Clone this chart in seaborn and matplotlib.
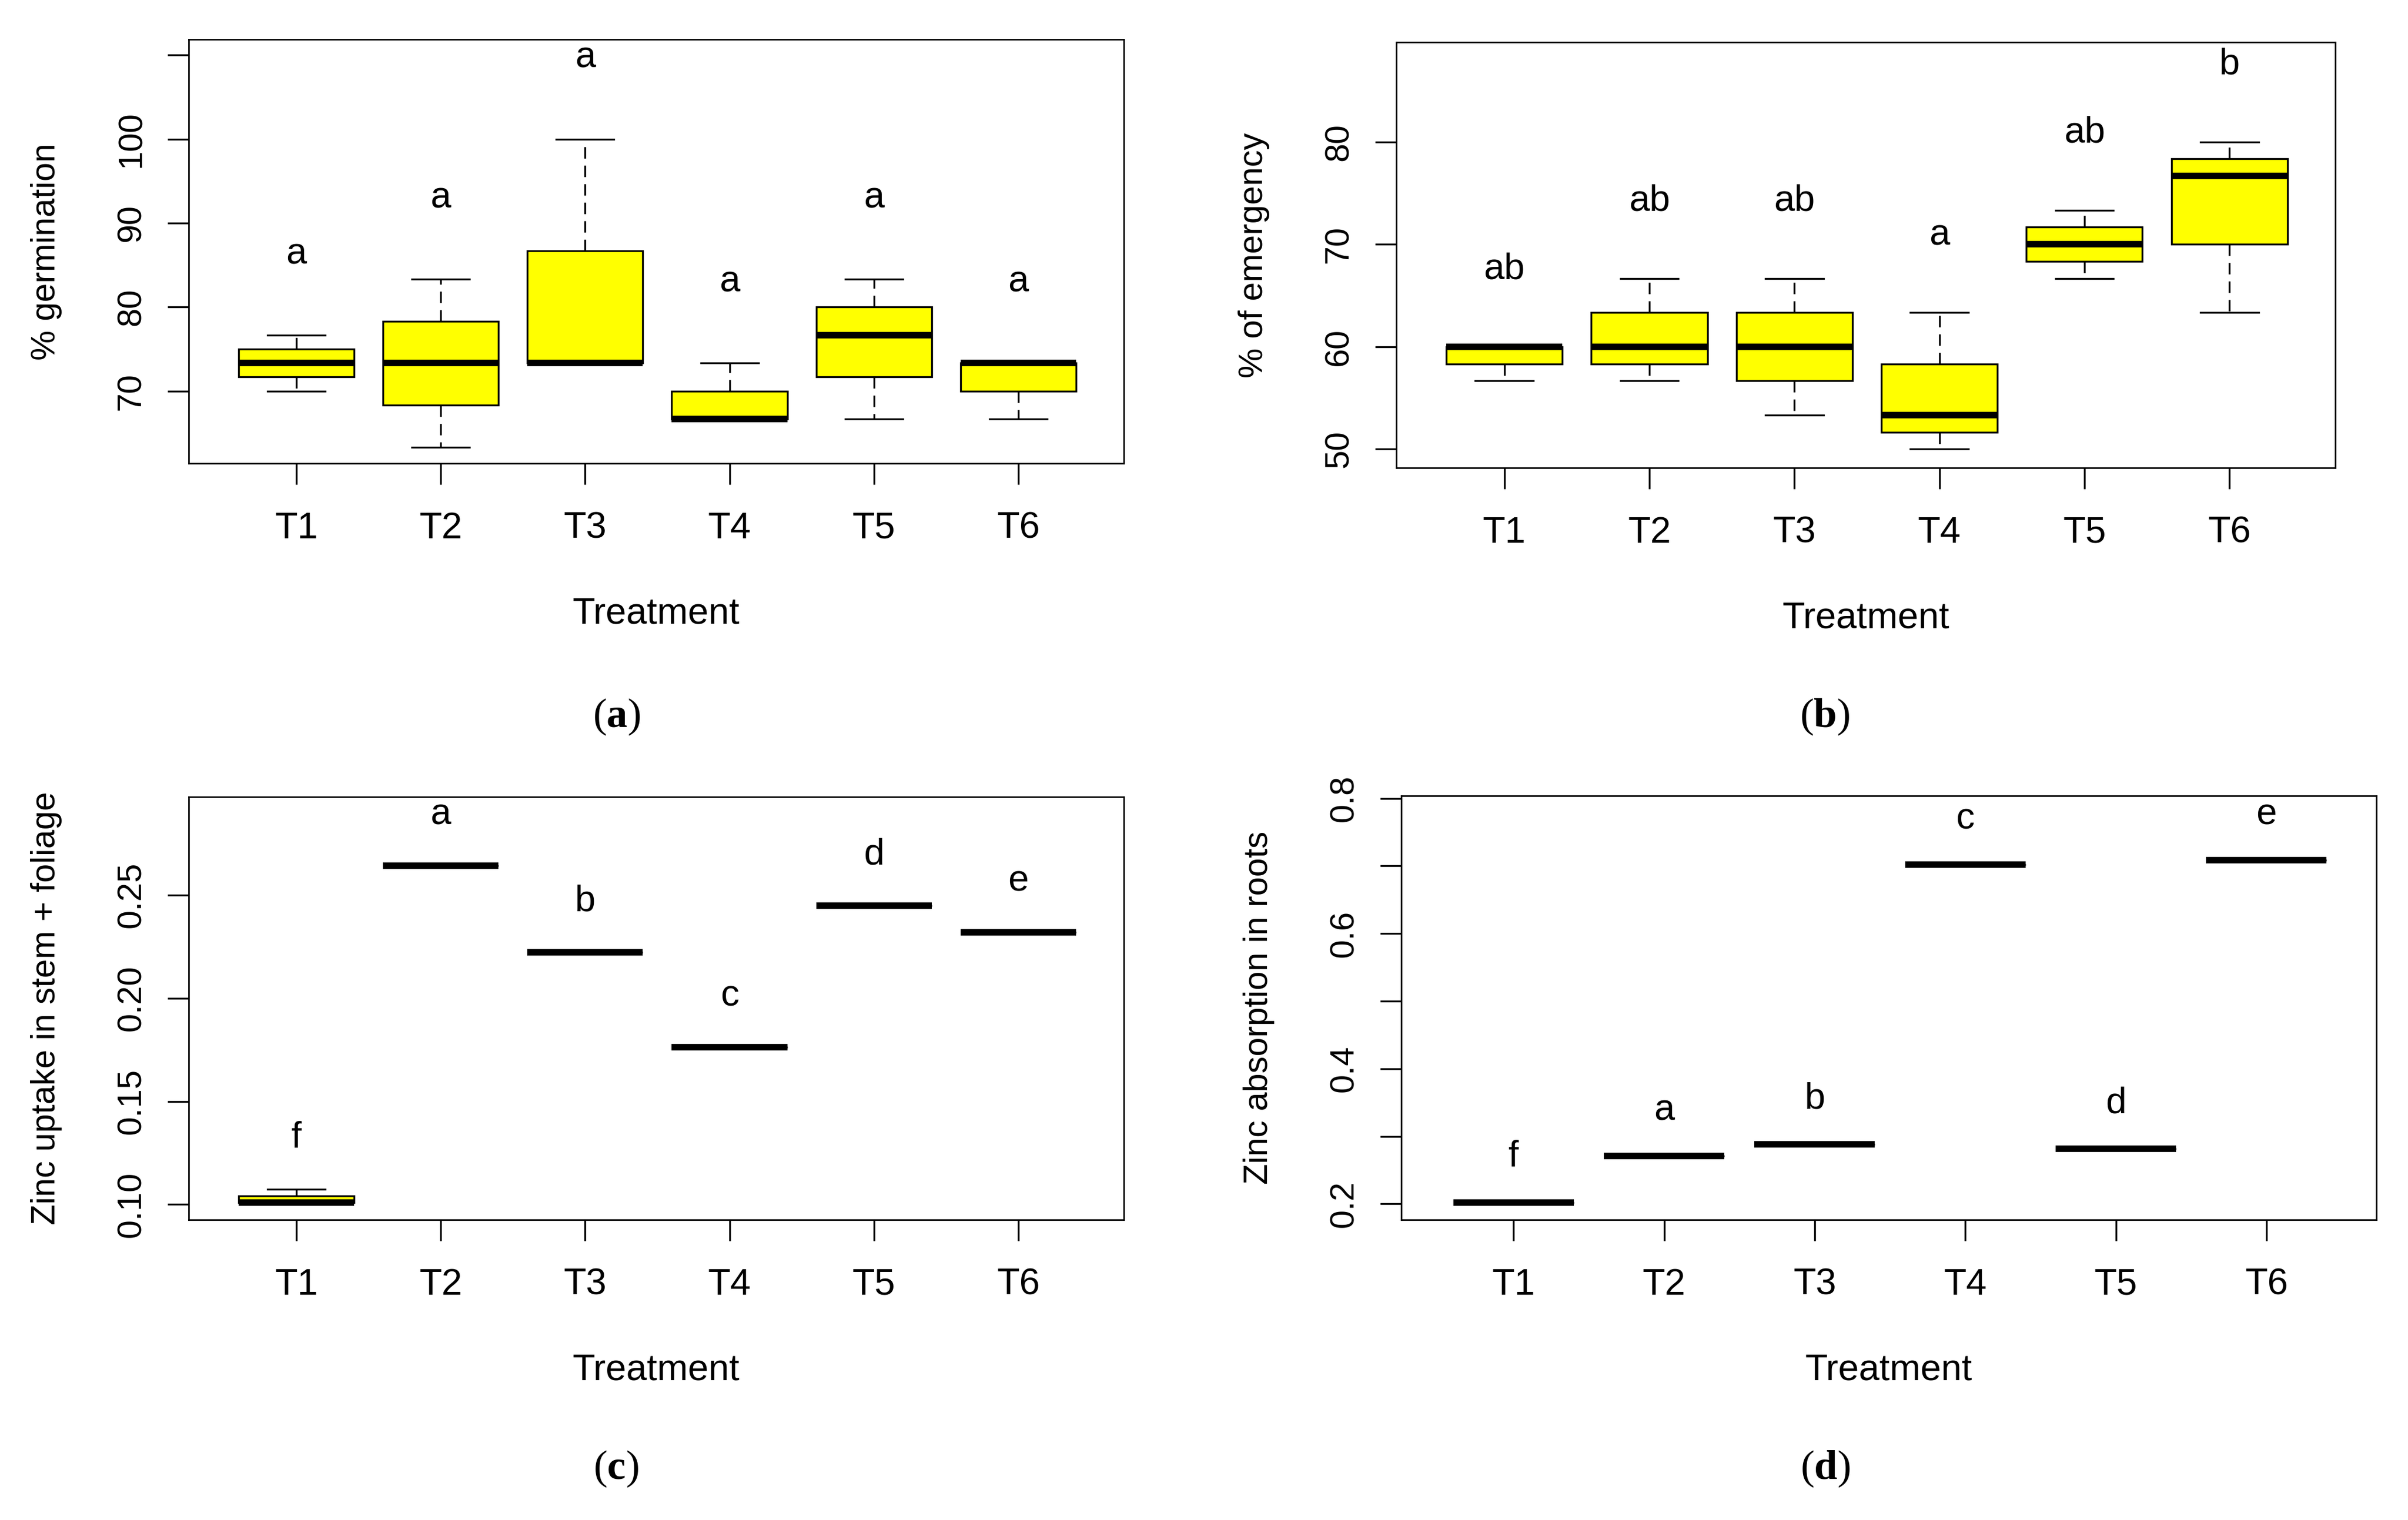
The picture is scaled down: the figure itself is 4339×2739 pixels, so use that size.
import matplotlib
matplotlib.use("Agg")
import matplotlib.pyplot as plt
import seaborn as sns
import pandas as pd

plt.rcParams['mathtext.fontset'] = 'custom'
plt.rcParams['mathtext.rm'] = 'Liberation Serif'
plt.rcParams['mathtext.bf'] = 'Liberation Serif:bold'

# Treatments on the x axis
treatments = ["T1", "T2", "T3", "T4", "T5", "T6"]

# Three replicates per treatment
germination = [[70.00, 73.33, 76.67], [63.33, 73.33, 83.33], [73.33, 73.33, 100.00],
               [66.67, 66.67, 73.33], [66.67, 76.67, 83.33], [66.67, 73.33, 73.33]]
emergency = [[56.67, 60.00, 60.00], [56.67, 60.00, 66.67], [53.33, 60.00, 66.67],
             [50.00, 53.33, 63.33], [66.67, 70.00, 73.33], [63.33, 76.67, 80.00]]
zinc_stem = [[0.1010, 0.1010, 0.1075], [0.2642, 0.2642, 0.2642], [0.2223, 0.2223, 0.2223],
             [0.1763, 0.1763, 0.1763], [0.2448, 0.2448, 0.2448], [0.2318, 0.2318, 0.2318]]
zinc_root = [[0.2022, 0.2022, 0.2022], [0.2708, 0.2708, 0.2708], [0.2881, 0.2881, 0.2881],
             [0.7018, 0.7018, 0.7018], [0.2816, 0.2816, 0.2816], [0.7083, 0.7083, 0.7083]]

# Significance letters
letters_a = ["a", "a", "a", "a", "a", "a"]
letters_b = ["ab", "ab", "ab", "a", "ab", "b"]
letters_c = ["f", "a", "b", "c", "d", "e"]
letters_d = ["f", "a", "b", "c", "d", "e"]

NARROW = ['Liberation Sans Narrow', 'Liberation Sans']
SANS = ['Liberation Sans', 'DejaVu Sans']
SERIF = ['Liberation Serif', 'DejaVu Serif']
YELLOW = '#FFFF00'


def draw_panel(ax, values, letters, ylabel, ylim, yticks, yticklabels, offset):
    df = pd.DataFrame({
        "Treatment": [t for t, reps in zip(treatments, values) for _ in reps],
        "value": [v for reps in values for v in reps],
    })
    sns.boxplot(data=df, x="Treatment", y="value", order=treatments, ax=ax,
                color=YELLOW, saturation=1, width=0.8, linecolor="black",
                linewidth=1.2, showfliers=False,
                medianprops=dict(color="black", linewidth=4.2, solid_capstyle="butt"),
                whiskerprops=dict(linestyle=(0, (6.2, 3.8))),
                capwidths=0.4)
    for i, reps in enumerate(values):
        ax.text(i, max(reps) + offset, letters[i], ha='center', va='baseline',
                fontsize=24, family=NARROW)
    ax.set_xlim(-0.745, 5.73)
    ax.set_ylim(*ylim)
    ax.set_yticks(yticks)
    ax.set_yticklabels(yticklabels, rotation=90, va='center', family=SANS, fontsize=22)
    ax.set_xticks(range(len(treatments)))
    ax.set_xticklabels(treatments, family=NARROW, fontsize=24)
    ax.tick_params(axis='both', direction='out', length=13.7, width=1.2, color='black')
    ax.tick_params(axis='x', pad=17.5)
    ax.tick_params(axis='y', pad=13)
    ax.set_xlabel("Treatment", family=NARROW, fontsize=24, labelpad=33)
    ax.set_ylabel(ylabel, family=SANS, fontsize=22, labelpad=35)
    for sp in ax.spines.values():
        sp.set_linewidth(1.0)
        sp.set_color('black')


fig = plt.figure(figsize=(4339 / 200, 2739 / 200), dpi=200)
ax_a = fig.add_axes([0.07836, 0.69514, 0.38834, 0.27894])
ax_b = fig.add_axes([0.57986, 0.69222, 0.38995, 0.28003])
ax_c = fig.add_axes([0.07836, 0.19752, 0.38834, 0.27820])
ax_d = fig.add_axes([0.58193, 0.19752, 0.40493, 0.27894])

draw_panel(ax_a, germination, letters_a, "% germination", (61.39, 111.87),
           [70, 80, 90, 100, 110], ["70", "80", "90", "100", ""], 8.5)
draw_panel(ax_b, emergency, letters_b, "% of emergency", (48.18, 89.73),
           [50, 60, 70, 80], ["50", "60", "70", "80"], 6.6)
draw_panel(ax_c, zinc_stem, letters_c, "Zinc uptake in stem + foliage", (0.0926, 0.2975),
           [0.10, 0.15, 0.20, 0.25], ["0.10", "0.15", "0.20", "0.25"], 0.020)
draw_panel(ax_d, zinc_root, letters_d, "Zinc absorption in roots", (0.1764, 0.8039),
           [0.2, 0.3, 0.4, 0.5, 0.6, 0.7, 0.8], ["0.2", "", "0.4", "", "0.6", "", "0.8"], 0.053)

for label, x, y in [("a", 0.2560, 0.5283), ("b", 0.7578, 0.5283),
                    ("c", 0.2558, 0.0336), ("d", 0.7580, 0.0336)]:
    fig.text(x, y, r"($\mathbf{%s}$)" % label, ha='center', va='center',
             fontsize=27, family=SERIF)

fig.savefig("out.png", dpi=200, facecolor='white')
